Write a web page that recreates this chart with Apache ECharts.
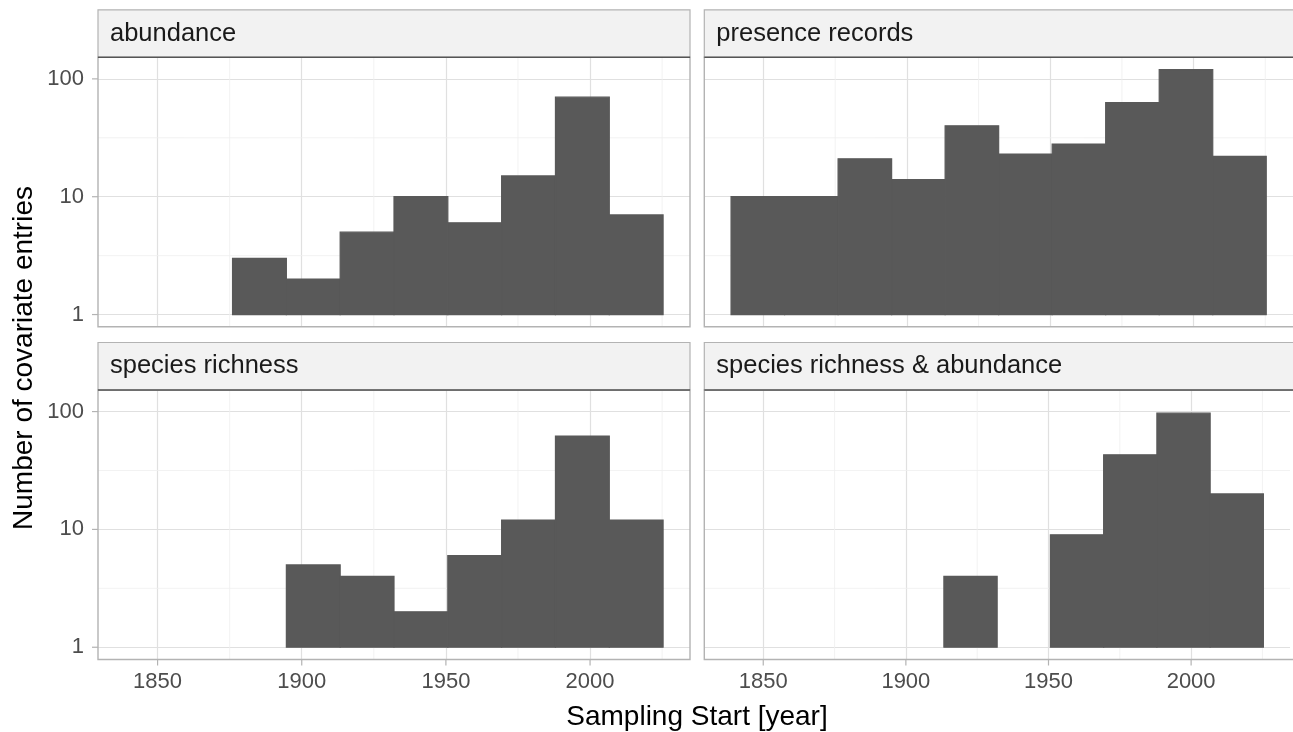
<!DOCTYPE html>
<html><head><meta charset="utf-8">
<script src="https://cdn.jsdelivr.net/npm/echarts@6.0.0/dist/echarts.min.js"></script>
<style>html,body{margin:0;padding:0;background:#fff}#c{width:1293px;height:732px}</style>
</head><body><div id="c"></div>
<script>
// ---- data ----
const binEdges = [1838.67, 1857.33, 1876.00, 1894.67, 1913.33, 1932.00, 1950.67, 1969.33, 1988.00, 2006.67, 2025.33];
const facetNames = ['abundance', 'presence records', 'species richness', 'species richness & abundance'];
const abundance = [0, 0, 3, 2, 5, 10, 6, 15, 70, 7];
const presenceRecords = [10, 10, 21, 14, 40, 23, 28, 63, 120, 22];
const speciesRichness = [0, 0, 0, 5, 4, 2, 6, 12, 62, 12];
const richnessAbundance = [0, 0, 0, 0, 4, 0, 9, 43, 97, 20];
const xTickLabels = [1850, 1900, 1950, 2000];
const yTickLabels = [1, 10, 100];
const xMinorBreaks = [1875, 1925, 1975, 2025];
const yMinorBreaks = [3.1623, 31.623];
const xTitle = 'Sampling Start [year]';
const yTitle = 'Number of covariate entries';

// ---- layout / style ----
const FONT = '"Liberation Sans", Arial, sans-serif';
const facetCounts = [abundance, presenceRecords, speciesRichness, richnessAbundance];
const panelW = 592, panelH = 269.5, stripH = 47.5;
const lefts = [98, 704.3], tops = [57.3, 390];
const barColor = '#595959';
const borderColor = '#b3b3b3';
const majorGrid = '#e0e0e0', minorGrid = '#efefef';

const xSpan = binEdges[binEdges.length - 1] - binEdges[0];
const xMin = binEdges[0] - 0.05 * xSpan, xMax = binEdges[binEdges.length - 1] + 0.05 * xSpan;
const maxCount = Math.max(...facetCounts.flat());
const R = Math.log10(maxCount);
const yMin = Math.pow(10, -0.05 * R), yMax = Math.pow(10, 1.05 * R);

const chart = echarts.init(document.getElementById('c'), null, {renderer: 'canvas'});
const grids = [], xAxes = [], yAxes = [], series = [], graphics = [];

function isTick(list, v) { return list.some(t => Math.abs(t - v) / t < 1e-6); }

facetCounts.forEach((counts, i) => {
  const row = Math.floor(i / 2), col = i % 2;
  const left = lefts[col], top = tops[row];
  grids.push({left: left, top: top, width: panelW, height: panelH, containLabel: false});
  xAxes.push({
    type: 'value', gridIndex: i, min: xMin, max: xMax, splitNumber: 4, minInterval: 50, maxInterval: 50,
    axisLine: {show: false}, axisTick: {show: false},
    axisLabel: {show: row === 1, margin: 11, fontSize: 22, color: '#4d4d4d', fontFamily: FONT,
      formatter: v => isTick(xTickLabels, v) ? String(Math.round(v)) : ''},
    splitLine: {show: true, showMinLine: false, showMaxLine: false, lineStyle: {color: majorGrid, width: 1.2}}
  });
  yAxes.push({
    type: 'log', logBase: 10, gridIndex: i, min: yMin, max: yMax,
    axisLine: {show: false}, axisTick: {show: false},
    axisLabel: {show: col === 0, margin: 14, fontSize: 22, color: '#4d4d4d', fontFamily: FONT,
      formatter: v => isTick(yTickLabels, v) ? String(Math.round(v)) : ''},
    splitLine: {show: true, showMinLine: false, showMaxLine: false, lineStyle: {color: majorGrid, width: 1.2}}
  });
  // guides: minor gridlines + tick marks (0 = minor x, 1 = minor y, 2 = x tick, 3 = y tick)
  const guideData = [];
  xMinorBreaks.forEach(v => guideData.push([v, 1, 0]));
  yMinorBreaks.forEach(v => guideData.push([1900, v, 1]));
  if (row === 1) xTickLabels.forEach(v => guideData.push([v, 1, 2]));
  if (col === 0) yTickLabels.forEach(v => guideData.push([1900, v, 3]));
  series.push({
    type: 'custom', xAxisIndex: i, yAxisIndex: i, z: 1, silent: true,
    encode: {x: 0, y: 1},
    data: guideData,
    renderItem: (params, api) => {
      const cs = params.coordSys;
      const kind = api.value(2);
      const p = api.coord([api.value(0), api.value(1)]);
      let shape, color = minorGrid, w = 0.8;
      if (kind === 0) shape = {x1: p[0], y1: cs.y, x2: p[0], y2: cs.y + cs.height};
      else if (kind === 1) shape = {x1: cs.x, y1: p[1], x2: cs.x + cs.width, y2: p[1]};
      else if (kind === 2) { shape = {x1: p[0], y1: cs.y + cs.height, x2: p[0], y2: cs.y + cs.height + 6}; color = borderColor; w = 1.2; }
      else { shape = {x1: cs.x - 6, y1: p[1], x2: cs.x, y2: p[1]}; color = borderColor; w = 1.2; }
      return {type: 'line', shape: shape, style: {stroke: color, lineWidth: w}};
    }
  });
  // histogram bars
  const barData = [];
  counts.forEach((c, k) => { if (c > 0) barData.push([binEdges[k], binEdges[k + 1], c]); });
  series.push({
    type: 'custom', name: facetNames[i], xAxisIndex: i, yAxisIndex: i, z: 3,
    encode: {x: [0, 1], y: 2},
    data: barData,
    renderItem: (params, api) => {
      const base = api.coord([api.value(0), 1]);
      const topP = api.coord([api.value(1), api.value(2)]);
      return {type: 'rect',
        shape: {x: base[0], y: topP[1], width: topP[0] - base[0], height: base[1] - topP[1]},
        style: {fill: barColor, stroke: barColor, lineWidth: 1.2}};
    }
  });
  // panel border
  graphics.push({type: 'rect', z: 50, silent: true,
    shape: {x: left, y: top, width: panelW, height: panelH},
    style: {fill: null, stroke: borderColor, lineWidth: 1.4}});
  // strip
  graphics.push({type: 'rect', z: 50, silent: true,
    shape: {x: left, y: top - stripH, width: panelW, height: stripH},
    style: {fill: '#f2f2f2', stroke: borderColor, lineWidth: 1.2}});
  graphics.push({type: 'line', z: 51, silent: true,
    shape: {x1: left, y1: top, x2: left + panelW, y2: top},
    style: {stroke: '#555555', lineWidth: 1.5}});
  graphics.push({type: 'text', z: 52, silent: true,
    x: left + 12, y: top - stripH / 2,
    style: {text: facetNames[i], fontSize: 25.5, fontFamily: FONT, fill: '#1a1a1a',
      textAlign: 'left', textVerticalAlign: 'middle'}});
});

graphics.push({type: 'text', z: 52, silent: true, x: 697, y: 717,
  style: {text: xTitle, fontSize: 28, fontFamily: FONT, fill: '#000',
    textAlign: 'center', textVerticalAlign: 'middle'}});
graphics.push({type: 'text', z: 52, silent: true, x: 24, y: 358, rotation: Math.PI / 2,
  style: {text: yTitle, fontSize: 28, fontFamily: FONT, fill: '#000',
    textAlign: 'center', textVerticalAlign: 'middle'}});

chart.setOption({
  backgroundColor: '#ffffff',
  animation: false,
  grid: grids, xAxis: xAxes, yAxis: yAxes, series: series, graphic: graphics
});
</script></body></html>
